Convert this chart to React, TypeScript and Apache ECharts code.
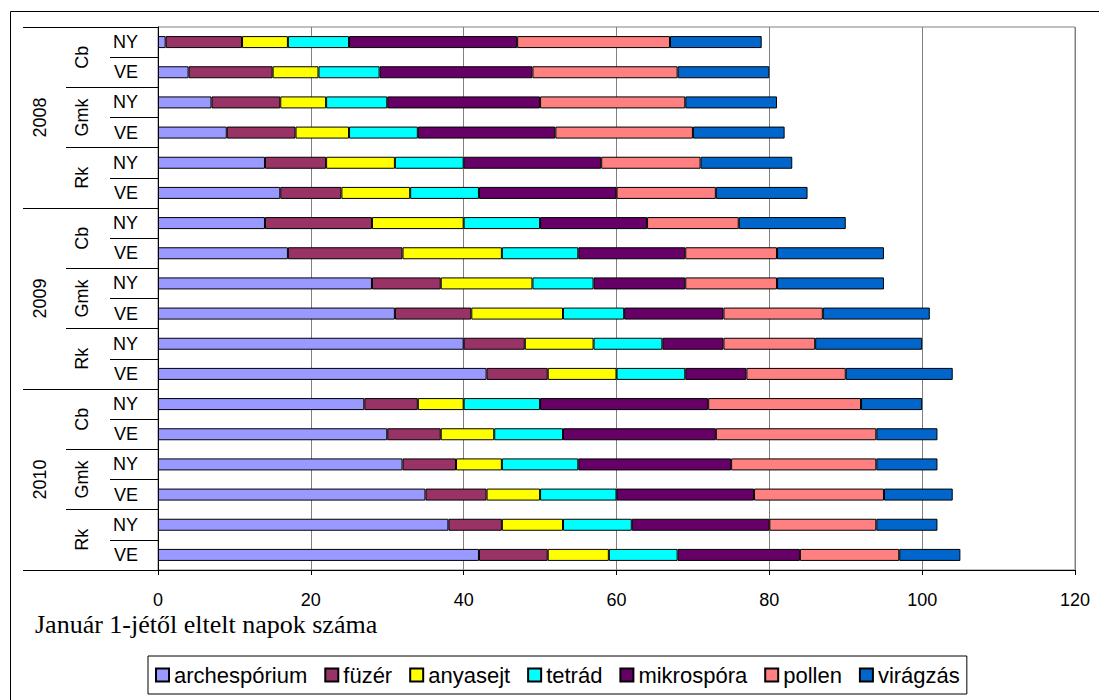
import React, { useEffect, useRef } from "react";
import * as echarts from "echarts";

const years = ["2008", "2009", "2010"];
const sites = ["Cb", "Gmk", "Rk"];
const periods = ["NY", "VE"];

const stageNames = ["archespórium", "füzér", "anyasejt", "tetrád", "mikrospóra", "pollen", "virágzás"];
const stageColors = ["#9999FF", "#993366", "#FFFF00", "#00FFFF", "#660066", "#FF8080", "#0066CC"];

// rows top to bottom: 2008 Cb NY, 2008 Cb VE, 2008 Gmk NY, ... 2010 Rk VE
const archesporium = [1, 4, 7, 9, 14, 16, 14, 17, 28, 31, 40, 43, 27, 30, 32, 35, 38, 42];
const fuzer = [10, 11, 9, 9, 8, 8, 14, 15, 9, 10, 8, 8, 7, 7, 7, 8, 7, 9];
const anyasejt = [6, 6, 6, 7, 9, 9, 12, 13, 12, 12, 9, 9, 6, 7, 6, 7, 8, 8];
const tetrad = [8, 8, 8, 9, 9, 9, 10, 10, 8, 8, 9, 9, 10, 9, 10, 10, 9, 9];
const mikrospora = [22, 20, 20, 18, 18, 18, 14, 14, 12, 13, 8, 8, 22, 20, 20, 18, 18, 16];
const pollen = [20, 19, 19, 18, 13, 13, 12, 12, 12, 13, 12, 13, 20, 21, 19, 17, 14, 13];
const viragzas = [12, 12, 12, 12, 12, 12, 14, 14, 14, 14, 14, 14, 8, 8, 8, 9, 8, 8];

const xTicks = { min: 0, max: 120, interval: 20 };
const xTitle = "Január 1-jétől eltelt napok száma";

const rowCategories = years.flatMap((y) => sites.flatMap((s) => periods.map((p) => `${y}|${s}|${p}`)));
const siteCategories = years.flatMap((y) => sites.map((s) => `${y}|${s}`));

const SANS = "Liberation Sans, Arial, sans-serif";
const SERIF = "Liberation Serif, Times New Roman, serif";

export default function App() {
  const ref = useRef<HTMLDivElement>(null);
  useEffect(() => {
    if (!ref.current) return;
    const chart = echarts.init(ref.current, undefined, { renderer: "svg" });
    const seriesData = [archesporium, fuzer, anyasejt, tetrad, mikrospora, pollen, viragzas];
    const last = (v: string) => {
      const p = v.split("|");
      return p[p.length - 1];
    };
    const option: any = {
      animation: false,
      backgroundColor: "#fff",
      title: {
        text: xTitle,
        left: 35,
        top: 611,
        padding: 0,
        textStyle: { fontFamily: SERIF, fontSize: 26, fontWeight: "normal", color: "#000" },
      },
      legend: {
        data: stageNames,
        left: 148,
        top: 656,
        orient: "horizontal",
        borderColor: "#000",
        borderWidth: 1,
        padding: [8, 7],
        itemWidth: 13,
        itemHeight: 13,
        itemGap: 17,
        icon: "rect",
        textStyle: { fontFamily: SANS, fontSize: 22, color: "#000" },
      },
      grid: {
        left: 158,
        right: 24,
        top: 27,
        bottom: 130,
        show: true,
        borderColor: "#808080",
        borderWidth: 1,
        backgroundColor: "transparent",
      },
      xAxis: {
        type: "value",
        min: xTicks.min,
        max: xTicks.max,
        interval: xTicks.interval,
        position: "bottom",
        axisLine: { show: true, onZero: false, lineStyle: { color: "#000", width: 1 } },
        axisTick: { show: true, length: 5, lineStyle: { color: "#000" } },
        splitLine: { show: true, lineStyle: { color: "#808080", width: 1 } },
        axisLabel: { margin: 21, fontSize: 18, fontFamily: SANS, color: "#000" },
      },
      yAxis: [
        {
          type: "category",
          data: rowCategories,
          inverse: true,
          position: "left",
          axisLine: { show: true, onZero: false, lineStyle: { color: "#000" } },
          axisTick: { show: true, length: 48, interval: 0, lineStyle: { color: "#000" } },
          axisLabel: { interval: 0, margin: 20, fontSize: 18, fontFamily: SANS, color: "#000", formatter: last },
        },
        {
          type: "category",
          data: siteCategories,
          inverse: true,
          position: "left",
          axisLine: { show: false, onZero: false },
          axisTick: { show: true, length: 92, interval: 0, lineStyle: { color: "#000" } },
          axisLabel: { interval: 0, rotate: 90, margin: 67, fontSize: 18, fontFamily: SANS, color: "#000", formatter: last },
          splitLine: { show: false },
        },
        {
          type: "category",
          data: years,
          inverse: true,
          position: "left",
          axisLine: { show: false, onZero: false },
          axisTick: { show: true, length: 135, interval: 0, lineStyle: { color: "#000" } },
          axisLabel: { interval: 0, rotate: 90, margin: 109, fontSize: 18, fontFamily: SANS, color: "#000" },
          splitLine: { show: false },
        },
      ],
      graphic: [
        { type: "line", shape: { x1: 10.5, y1: 11.5, x2: 1099, y2: 11.5 }, style: { stroke: "#000", lineWidth: 1 } },
        { type: "line", shape: { x1: 10.5, y1: 11.5, x2: 10.5, y2: 700 }, style: { stroke: "#000", lineWidth: 1 } },
      ],
      series: stageNames.map((name, i) => ({
        name,
        type: "bar",
        stack: "total",
        xAxisIndex: 0,
        yAxisIndex: 0,
        barWidth: 12,
        data: seriesData[i],
        itemStyle: { color: stageColors[i], borderColor: "#000", borderWidth: 1 },
        emphasis: { disabled: true },
      })),
    };
    chart.setOption(option);
    return () => chart.dispose();
  }, []);
  return (
    <div
      ref={ref}
      style={{ position: "absolute", left: 0, top: 0, width: 1099, height: 700, background: "#fff" }}
    />
  );
}
